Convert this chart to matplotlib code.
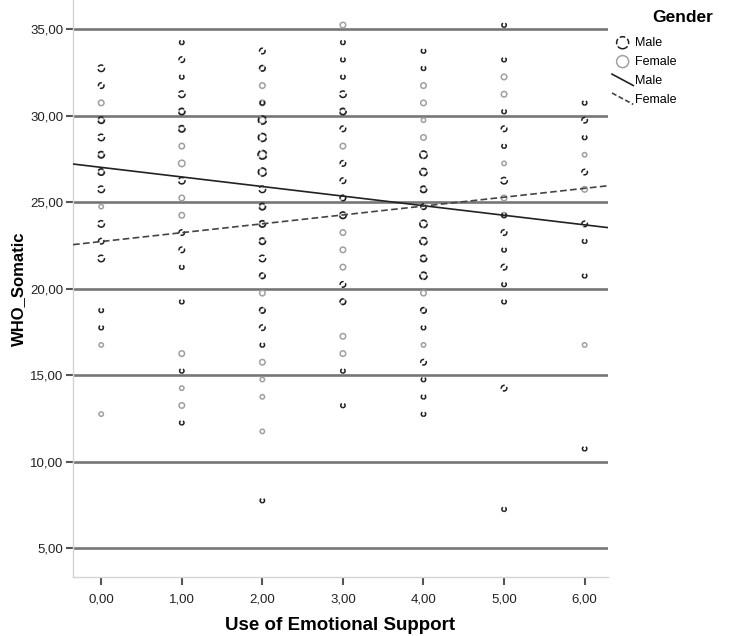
import matplotlib.pyplot as plt
from matplotlib.lines import Line2D
from matplotlib.legend_handler import HandlerLine2D
from matplotlib.ticker import FuncFormatter

plt.rcParams['font.family'] = ['Liberation Sans', 'DejaVu Sans']

# Use of Emotional Support (x), WHO_Somatic (y), number of males / females at that point
support = [0] * 16 + [1] * 20 + [2] * 23 + [3] * 21 + [4] * 22 + [5] * 18 + [6] * 11
somatic = [
    # 0,00
    32.75, 31.75, 30.75, 29.75, 28.75, 27.75, 26.75, 25.75, 24.75, 23.75, 22.75, 21.75,
    18.75, 17.75, 16.75, 12.75,
    # 1,00
    34.25, 33.25, 32.25, 31.25, 30.25, 29.25, 28.25, 27.25, 26.25, 25.25, 24.25, 23.25,
    22.25, 21.25, 19.25, 16.25, 15.25, 14.25, 13.25, 12.25,
    # 2,00
    33.75, 32.75, 31.75, 30.75, 29.75, 28.75, 27.75, 26.75, 25.75, 24.75, 23.75, 22.75,
    21.75, 20.75, 19.75, 18.75, 17.75, 16.75, 15.75, 14.75, 13.75, 11.75, 7.75,
    # 3,00
    35.25, 34.25, 33.25, 32.25, 31.25, 30.25, 29.25, 28.25, 27.25, 26.25, 25.25, 24.25,
    23.25, 22.25, 21.25, 20.25, 19.25, 17.25, 16.25, 15.25, 13.25,
    # 4,00
    33.75, 32.75, 31.75, 30.75, 29.75, 28.75, 27.75, 26.75, 25.75, 24.75, 23.75, 22.75,
    21.75, 20.75, 19.75, 18.75, 17.75, 16.75, 15.75, 14.75, 13.75, 12.75,
    # 5,00
    35.25, 33.25, 32.25, 31.25, 30.25, 29.25, 28.25, 27.25, 26.25, 25.25, 24.25, 23.25,
    22.25, 21.25, 20.25, 19.25, 14.25, 7.25,
    # 6,00
    30.75, 29.75, 28.75, 27.75, 26.75, 25.75, 23.75, 22.75, 20.75, 16.75, 10.75,
]
n_male = [
    3, 2, 0, 3, 3, 3, 3, 3, 0, 3, 2, 3, 1, 1, 0, 0,
    1, 2, 1, 3, 3, 3, 0, 0, 3, 0, 0, 2, 2, 1, 1, 0, 1, 0, 0, 1,
    2, 2, 0, 1, 5, 5, 6, 5, 3, 3, 3, 3, 3, 2, 0, 2, 2, 1, 0, 0, 0, 0, 1,
    0, 1, 1, 1, 3, 3, 2, 0, 2, 2, 2, 3, 0, 0, 0, 2, 2, 0, 0, 1, 1,
    1, 1, 0, 0, 0, 0, 4, 4, 3, 2, 4, 4, 3, 4, 0, 2, 1, 0, 2, 1, 1, 1,
    1, 1, 0, 0, 1, 2, 1, 0, 3, 0, 1, 2, 1, 2, 1, 1, 2, 1,
    1, 2, 1, 0, 2, 0, 2, 1, 1, 0, 1,
]
n_female = [
    0, 0, 2, 2, 0, 2, 2, 0, 1, 0, 0, 0, 0, 0, 1, 1,
    0, 0, 0, 0, 2, 2, 2, 3, 0, 2, 2, 0, 0, 0, 0, 2, 0, 1, 2, 0,
    0, 2, 2, 2, 3, 4, 4, 4, 0, 2, 2, 2, 0, 2, 2, 2, 0, 0, 2, 1, 1, 1, 0,
    2, 0, 0, 0, 0, 2, 0, 2, 0, 0, 2, 3, 2, 2, 2, 0, 2, 2, 2, 0, 0,
    0, 0, 2, 2, 1, 2, 4, 3, 2, 2, 4, 3, 2, 3, 2, 2, 0, 1, 0, 0, 0, 0,
    0, 0, 2, 2, 0, 0, 0, 1, 0, 2, 2, 0, 0, 0, 0, 0, 0, 0,
    0, 0, 0, 1, 0, 2, 0, 0, 0, 1, 0,
]

# fitted lines (intercept, slope)
male_fit = (27.02, -0.554)
female_fit = (22.73, 0.513)

x_ticks = [0, 1, 2, 3, 4, 5, 6]
y_ticks = [5, 10, 15, 20, 25, 30, 35]


class DiagonalLine(HandlerLine2D):
    # SPSS draws the fit-line legend keys as short slanted strokes
    def create_artists(self, legend, orig_handle, xdescent, ydescent, width, height,
                       fontsize, trans):
        line = Line2D([-xdescent, width - xdescent], [height * 1.1, -height * 0.2])
        self.update_prop(line, orig_handle, legend)
        line.set_transform(trans)
        return [line]


fig = plt.figure(figsize=(7.42, 6.36), dpi=100)
ax = fig.add_axes([0.0984, 0.0928, 0.7210, 0.9072])

xlim = (-0.35, 6.29)
ax.set_xlim(*xlim)
ax.set_ylim(3.33, 36.7)

ax.set_yticks(y_ticks)
ax.set_xticks(x_ticks)
ax.grid(axis='y', color='#767676', lw=1.9)
ax.set_axisbelow(True)

fx = [x for x, n in zip(support, n_female) if n]
fy = [y for y, n in zip(somatic, n_female) if n]
fs = [4 + 6 * n for n in n_female if n]
ax.scatter(fx, fy, s=fs, facecolors='none', edgecolors='#a0a0a0', linewidths=1.1, zorder=3)

mx = [x for x, n in zip(support, n_male) if n]
my = [y for y, n in zip(somatic, n_male) if n]
ms = [4 + 6 * n for n in n_male if n]
ax.scatter(mx, my, s=ms, facecolors='none', edgecolors='#202020', linewidths=1.1,
           linestyles='--', zorder=4)

ax.plot(xlim, [male_fit[0] + male_fit[1] * x for x in xlim], color='#222222', lw=1.2, zorder=5)
ax.plot(xlim, [female_fit[0] + female_fit[1] * x for x in xlim], color='#444444', lw=1.2,
        ls=(0, (4, 2)), zorder=5)

fmt = FuncFormatter(lambda v, p: f"{v:.2f}".replace('.', ','))
ax.xaxis.set_major_formatter(fmt)
ax.yaxis.set_major_formatter(fmt)

for side in ['top', 'right']:
    ax.spines[side].set_visible(False)
for side in ['left', 'bottom']:
    ax.spines[side].set_color('#d4d4d4')
    ax.spines[side].set_linewidth(1.0)

ax.tick_params(axis='y', direction='out', length=5, width=1.5, color='#555555',
               labelsize=9.5, labelcolor='#222222', pad=2)
ax.tick_params(axis='x', direction='out', length=6, width=1.5, color='#555555',
               labelsize=9.5, labelcolor='#222222', pad=6)

ax.set_xlabel('Use of Emotional Support', fontsize=13.5, fontweight='bold', labelpad=8)
ax.set_ylabel('WHO_Somatic', fontsize=12, fontweight='bold', labelpad=3)

# legend keys: empty scatters so the male circle keeps its dashed outline
male_key = ax.scatter([], [], s=75, facecolors='none', edgecolors='#202020',
                      linewidths=1.1, linestyles='--')
female_key = ax.scatter([], [], s=75, facecolors='none', edgecolors='#a0a0a0',
                        linewidths=1.1)
male_line = Line2D([], [], color='#222222', lw=1.2)
female_line = Line2D([], [], color='#444444', lw=1.2, ls=(0, (3, 1.5)))

fig.legend([male_key, female_key, male_line, female_line],
           ['Male', 'Female', 'Male', 'Female'],
           loc='upper left', bbox_to_anchor=(612 / 742, 1 - 37 / 636), frameon=False,
           fontsize=9, handlelength=1.7, handletextpad=0.15, labelspacing=0.55,
           borderpad=0, borderaxespad=0, scatterpoints=1,
           handler_map={male_line: DiagonalLine(), female_line: DiagonalLine()})
fig.text(683 / 742, 1 - 17 / 636, 'Gender', fontsize=12.5, fontweight='bold',
         ha='center', va='center')

fig.savefig('out.png', dpi=100)
